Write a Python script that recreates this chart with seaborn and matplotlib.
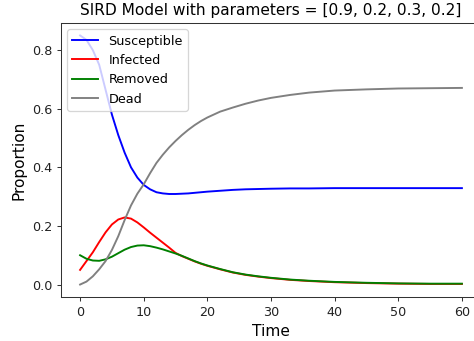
import matplotlib
matplotlib.use("Agg")
import matplotlib.pyplot as plt
import seaborn as sns
import pandas as pd

time = [0, 1, 2, 3, 4, 5, 6, 7, 8, 9, 10, 11, 12, 13, 14, 15, 16, 17, 18, 19, 20,
        22, 24, 26, 28, 30, 33, 36, 40, 45, 50, 55, 60]
susceptible = [0.85, 0.835, 0.80, 0.75, 0.665, 0.58, 0.51, 0.45, 0.40, 0.365, 0.34,
               0.325, 0.315, 0.311, 0.309, 0.309, 0.310, 0.311, 0.313, 0.315, 0.317,
               0.320, 0.323, 0.325, 0.326, 0.327, 0.328, 0.328, 0.329, 0.329, 0.329, 0.329, 0.329]
infected = [0.05, 0.08, 0.11, 0.145, 0.178, 0.205, 0.222, 0.229, 0.225, 0.212, 0.195,
            0.177, 0.160, 0.143, 0.126, 0.108, 0.097, 0.088, 0.079, 0.071, 0.064,
            0.052, 0.041, 0.033, 0.027, 0.022, 0.016, 0.012, 0.008, 0.005, 0.003, 0.002, 0.002]
removed = [0.10, 0.088, 0.082, 0.081, 0.086, 0.095, 0.107, 0.119, 0.128, 0.133, 0.134,
           0.131, 0.126, 0.120, 0.113, 0.106, 0.098, 0.089, 0.080, 0.072, 0.065,
           0.053, 0.042, 0.034, 0.028, 0.023, 0.017, 0.013, 0.009, 0.006, 0.004, 0.003, 0.003]
dead = [0.0, 0.01, 0.028, 0.052, 0.08, 0.118, 0.165, 0.22, 0.27, 0.31, 0.342,
        0.38, 0.415, 0.443, 0.468, 0.49, 0.51, 0.528, 0.544, 0.558, 0.57,
        0.59, 0.604, 0.617, 0.628, 0.637, 0.647, 0.655, 0.662, 0.666, 0.669, 0.670, 0.671]

series_names = ["Susceptible", "Infected", "Removed", "Dead"]
series_values = [susceptible, infected, removed, dead]
colors = ["blue", "red", "green", "gray"]
title = "SIRD Model with parameters = [0.9, 0.2, 0.3, 0.2]"

dpi = 92
fig = plt.figure(figsize=(475 / dpi, 341 / dpi), dpi=dpi)
ax = fig.add_axes([61 / 475, 44 / 341, 420 / 475, 274 / 341])

for name, vals, col in zip(series_names, series_values, colors):
    df = pd.DataFrame({"Time": time, "Proportion": vals})
    sns.lineplot(data=df, x="Time", y="Proportion", color=col, label=name, ax=ax,
                 linewidth=1.5)

ax.set_title(title, fontsize=12)
ax.set_xlabel("Time", fontsize=12)
ax.set_ylabel("Proportion", fontsize=12)
ax.tick_params(labelsize=10, colors="#333333", labelcolor="#222222")
for sp in ax.spines.values():
    sp.set_color("#333333")
ax.set_xticks([0, 10, 20, 30, 40, 50, 60])
ax.set_yticks([0.0, 0.2, 0.4, 0.6, 0.8])
ax.legend(loc="upper left", fontsize=10)

fig.savefig("out.png", dpi=dpi)
